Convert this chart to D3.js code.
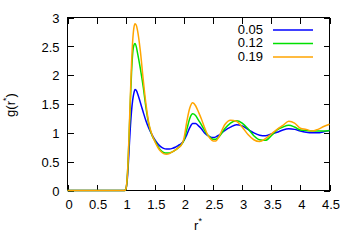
<!DOCTYPE html>
<html>
<head>
<meta charset="utf-8">
<script src="https://cdn.jsdelivr.net/npm/d3@7"></script>
<style>
  body { margin: 0; background: #fff; }
  svg { display: block; font-family: "Liberation Sans", Arial, sans-serif; }
</style>
</head>
<body>
<div id="chart"></div>
<script>
// r* grid shared by all three curves
const rVals = [0, 0.98, 1.00, 1.02, 1.04, 1.06, 1.08, 1.10, 1.12, 1.14, 1.16, 1.18, 1.20,
  1.25, 1.30, 1.35, 1.40, 1.45, 1.50, 1.55, 1.60, 1.65, 1.70, 1.75, 1.80, 1.85, 1.90, 1.95,
  2.00, 2.05, 2.10, 2.15, 2.20, 2.25, 2.30, 2.35, 2.40, 2.45, 2.50, 2.55, 2.60,
  2.70, 2.80, 2.90, 3.00, 3.10, 3.20, 3.30, 3.40, 3.50, 3.60, 3.70, 3.80, 3.90,
  4.00, 4.10, 4.20, 4.30, 4.40, 4.50];

const g005 = [0, 0, 0.02, 0.12, 0.38, 0.75, 1.10, 1.38, 1.57, 1.69, 1.75, 1.74, 1.69,
  1.53, 1.36, 1.20, 1.07, 0.97, 0.88, 0.81, 0.76, 0.73, 0.72, 0.72, 0.73, 0.75, 0.78, 0.81,
  0.87, 0.97, 1.09, 1.16, 1.16, 1.12, 1.07, 1.00, 0.96, 0.93, 0.92, 0.93, 0.96,
  1.04, 1.10, 1.14, 1.12, 1.06, 1.00, 0.96, 0.95, 0.98, 1.01, 1.05, 1.07, 1.06,
  1.03, 1.01, 1.00, 1.00, 1.02, 1.04];

const g012 = [0, 0, 0.02, 0.14, 0.48, 1.00, 1.55, 2.05, 2.38, 2.52, 2.55, 2.50, 2.40,
  2.12, 1.80, 1.42, 1.13, 0.96, 0.86, 0.77, 0.70, 0.66, 0.65, 0.65, 0.67, 0.70, 0.74, 0.79,
  0.87, 1.06, 1.25, 1.33, 1.30, 1.22, 1.14, 1.05, 0.97, 0.92, 0.89, 0.89, 0.93,
  1.07, 1.17, 1.21, 1.17, 1.07, 0.95, 0.88, 0.87, 0.95, 1.05, 1.10, 1.13, 1.10,
  1.05, 1.04, 1.03, 1.03, 1.03, 1.04];

const g019 = [0, 0, 0.02, 0.15, 0.50, 1.05, 1.65, 2.20, 2.60, 2.82, 2.89, 2.87, 2.79,
  2.43, 1.93, 1.48, 1.15, 0.97, 0.85, 0.75, 0.68, 0.64, 0.63, 0.64, 0.67, 0.70, 0.74, 0.78,
  0.90, 1.20, 1.43, 1.52, 1.47, 1.36, 1.24, 1.10, 0.98, 0.90, 0.86, 0.86, 0.93,
  1.14, 1.22, 1.20, 1.10, 0.97, 0.88, 0.85, 0.90, 0.98, 1.06, 1.13, 1.20, 1.17,
  1.08, 1.06, 1.03, 1.06, 1.11, 1.15];

const seriesNames = ["0.05", "0.12", "0.19"];
const seriesColors = ["#0000ff", "#00e000", "#ffa500"];
const xTicks = [0, 0.5, 1, 1.5, 2, 2.5, 3, 3.5, 4, 4.5];
const yTicks = [0, 0.5, 1, 1.5, 2, 2.5, 3];

const width = 354, height = 248;
const plotL = 67.5, plotR = 329.5, plotT = 17.5, plotB = 190.5;

const svg = d3.select("#chart").append("svg")
  .attr("width", width)
  .attr("height", height);

svg.append("rect").attr("width", width).attr("height", height).attr("fill", "#fff");

const x = d3.scaleLinear().domain([0, 4.5]).range([plotL, plotR]);
const y = d3.scaleLinear().domain([0, 3]).range([plotB, plotT]);

// Axes, ticks pointing inward on all four sides
function styleAxis(g) {
  g.select(".domain").remove();
  g.selectAll(".tick line").attr("stroke", "#000").attr("shape-rendering", "crispEdges");
  g.selectAll("text").attr("fill", "#000").style("font-size", "13px")
    .style("font-family", "'Liberation Sans', Arial, sans-serif");
}

svg.append("g")
  .attr("transform", `translate(0,${plotB})`)
  .call(d3.axisBottom(x).tickValues(xTicks).tickSize(-6).tickPadding(9).tickFormat(d3.format("")))
  .call(styleAxis)
  .selectAll("text").attr("dx", "1");

svg.append("g")
  .attr("transform", `translate(0,${plotT})`)
  .call(d3.axisTop(x).tickValues(xTicks).tickSize(-6).tickFormat(""))
  .call(styleAxis);

svg.append("g")
  .attr("transform", `translate(${plotL},0)`)
  .call(d3.axisLeft(y).tickValues(yTicks).tickSize(-6).tickPadding(8).tickFormat(d3.format("")))
  .call(styleAxis)
  .selectAll("text").attr("dy", "0.36em");

svg.append("g")
  .attr("transform", `translate(${plotR},0)`)
  .call(d3.axisRight(y).tickValues(yTicks).tickSize(-6).tickFormat(""))
  .call(styleAxis);

// Frame
svg.append("rect")
  .attr("x", plotL).attr("y", plotT)
  .attr("width", plotR - plotL).attr("height", plotB - plotT)
  .attr("fill", "none").attr("stroke", "#000")
  .attr("shape-rendering", "crispEdges");

// Curves
const allSeries = [g005, g012, g019];
const line = d3.line()
  .x((d, i) => x(rVals[i]))
  .y(d => y(d))
  .curve(d3.curveMonotoneX);

allSeries.forEach((vals, k) => {
  svg.append("path")
    .datum(vals)
    .attr("d", line)
    .attr("fill", "none")
    .attr("stroke", seriesColors[k])
    .attr("stroke-width", 1.5)
    .attr("stroke-linejoin", "round");
});

// Legend
const legend = svg.append("g");
seriesNames.forEach((name, k) => {
  const ly = 30 + k * 13.5;
  legend.append("text")
    .attr("x", 263).attr("y", ly)
    .attr("dy", "0.3em")
    .attr("text-anchor", "end")
    .style("font-size", "13px")
    .text(name);
  legend.append("line")
    .attr("x1", 273).attr("x2", 313)
    .attr("y1", ly).attr("y2", ly)
    .attr("stroke", seriesColors[k])
    .attr("stroke-width", 1.5);
});

// Axis titles
const xt = svg.append("text")
  .attr("x", 198).attr("y", 230)
  .attr("text-anchor", "middle")
  .style("font-size", "13px");
xt.append("tspan").text("r");
xt.append("tspan").attr("dy", -6).style("font-size", "9px").text("*");

const yt = svg.append("text")
  .attr("transform", "translate(15,105) rotate(-90)")
  .attr("text-anchor", "middle")
  .style("font-size", "13px");
yt.append("tspan").text("g(r");
yt.append("tspan").attr("dy", -6).style("font-size", "9px").text("*");
yt.append("tspan").attr("dy", 6).text(")");
</script>
</body>
</html>
